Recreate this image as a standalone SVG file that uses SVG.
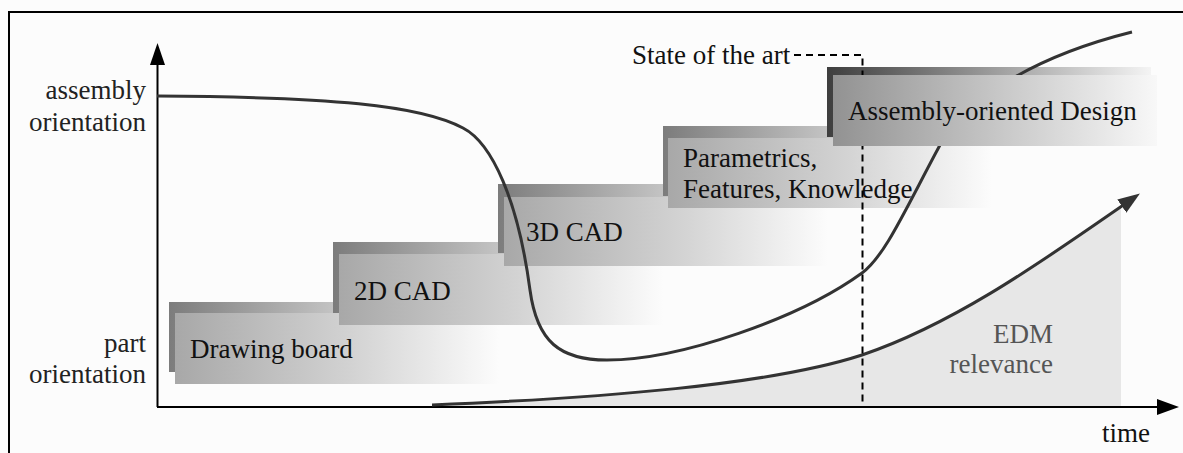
<svg xmlns="http://www.w3.org/2000/svg" width="1183" height="453" viewBox="0 0 1183 453" font-family="'Liberation Serif', Tinos, 'Times New Roman', Times, 'DejaVu Serif', serif">
<defs>
<style>
.t{font-family:'Liberation Serif',Tinos,'Times New Roman',Times,'DejaVu Serif',serif;font-size:27px;fill:#111}
.ax{fill:#222}
.edm{fill:#555}
.curve{fill:none;stroke:#333;stroke-width:3}
.axis{stroke:#000;stroke-width:2;fill:none}
.head{fill:#000}
.dash{fill:none;stroke:#000;stroke-width:2;stroke-dasharray:7 5}
</style>
<linearGradient id="gFront" x1="0" y1="0" x2="1" y2="0">
<stop offset="0" stop-color="#a8a8a8"/><stop offset="0.55" stop-color="#d3d3d3"/><stop offset="1" stop-color="#fcfcfc"/>
</linearGradient>
<linearGradient id="gShadow" x1="0" y1="0" x2="1" y2="0">
<stop offset="0" stop-color="#7c7c7c"/><stop offset="0.5" stop-color="#c2c2c2"/><stop offset="1" stop-color="#fcfcfc"/>
</linearGradient>
<linearGradient id="gShadow5" x1="0" y1="0" x2="1" y2="0">
<stop offset="0" stop-color="#3e3e3e"/><stop offset="0.5" stop-color="#9a9a9a"/><stop offset="1" stop-color="#f4f4f4"/>
</linearGradient>
<linearGradient id="gFront5" x1="0" y1="0" x2="1" y2="0">
<stop offset="0" stop-color="#929292"/><stop offset="0.5" stop-color="#c6c6c6"/><stop offset="1" stop-color="#f8f8f8"/>
</linearGradient>
<marker id="ah" viewBox="0 0 22 16" refX="16" refY="8" markerWidth="22" markerHeight="16" markerUnits="userSpaceOnUse" orient="auto">
<path d="M0,0 L22,8 L0,16 Z" fill="#333"/>
</marker>
<clipPath id="clipEdm"><rect x="0" y="0" width="1121" height="453"/></clipPath>
</defs>

<rect x="0" y="0" width="1183" height="453" fill="#fcfcfc"/>
<path d="M9,453 L9,12 L1183,12" fill="none" stroke="#000" stroke-width="2"/>

<g id="edm-area">
<path d="M432,405 C600,398 770,385 862,355 C960,322 1055,252 1135,197 L1135,407 L432,407 Z" fill="#e7e7e7" clip-path="url(#clipEdm)"/>
<text class="t edm" x="1053" y="343" text-anchor="end">EDM</text>
<text class="t edm" x="1053" y="373" text-anchor="end">relevance</text>
</g>

<g id="box-drawing-board">
<rect x="169" y="302" width="324" height="70" fill="url(#gShadow)"/>
<rect x="175" y="313" width="324" height="71" fill="url(#gFront)"/>
<text class="t" x="190" y="358">Drawing board</text>
</g>
<g id="box-2d-cad">
<rect x="333" y="242" width="324" height="71" fill="url(#gShadow)"/>
<rect x="339" y="254" width="324" height="71" fill="url(#gFront)"/>
<text class="t" x="354" y="300">2D CAD</text>
</g>
<g id="box-3d-cad">
<rect x="498" y="184" width="324" height="69" fill="url(#gShadow)"/>
<rect x="504" y="197" width="324" height="69" fill="url(#gFront)"/>
<text class="t" x="526" y="241">3D CAD</text>
</g>
<g id="box-parametrics">
<rect x="663" y="126" width="324" height="70" fill="url(#gShadow)"/>
<rect x="668" y="138" width="324" height="70" fill="url(#gFront)"/>
<text class="t" x="683" y="167">Parametrics,</text>
<text class="t" x="683" y="198">Features, Knowledge</text>
</g>
<g id="box-assembly-shadow">
<rect x="827" y="67" width="324" height="70" fill="url(#gShadow5)"/>
</g>

<g id="axis-labels">
<text class="t ax" x="146" y="99" text-anchor="end">assembly</text>
<text class="t ax" x="146" y="131" text-anchor="end">orientation</text>
<text class="t ax" x="146" y="352" text-anchor="end">part</text>
<text class="t ax" x="146" y="383" text-anchor="end">orientation</text>
<text class="t" x="1102" y="442">time</text>
<text class="t" x="632" y="64">State of the art</text>
</g>

<g id="connectors">
<path class="axis" d="M157.5,407 L157.5,60"/>
<path class="head" d="M150,65 L157.5,43 L165,65 Z"/>
<path class="axis" d="M157,407 L1160,407"/>
<path class="head" d="M1157,399 L1179,407 L1157,415 Z"/>
<path class="curve" d="M157,96 C330,97 420,105 463,128 C492,143 518,200 530,290 C537,342 560,360 607,360 C680,360 800,318 862,273 C885,256 905,210 940,145 C960,108 1020,60 1132,32"/>
<path class="curve" d="M432,405 C600,398 770,385 862,355 C960,322 1055,252 1135,197" marker-end="url(#ah)"/>
<path class="dash" d="M794,55 L862.5,55 L862.5,407"/>
</g>

<g id="box-assembly">
<rect x="833" y="75" width="324" height="71" fill="url(#gFront5)"/>
<text class="t" x="848" y="120">Assembly-oriented Design</text>
</g>
</svg>
